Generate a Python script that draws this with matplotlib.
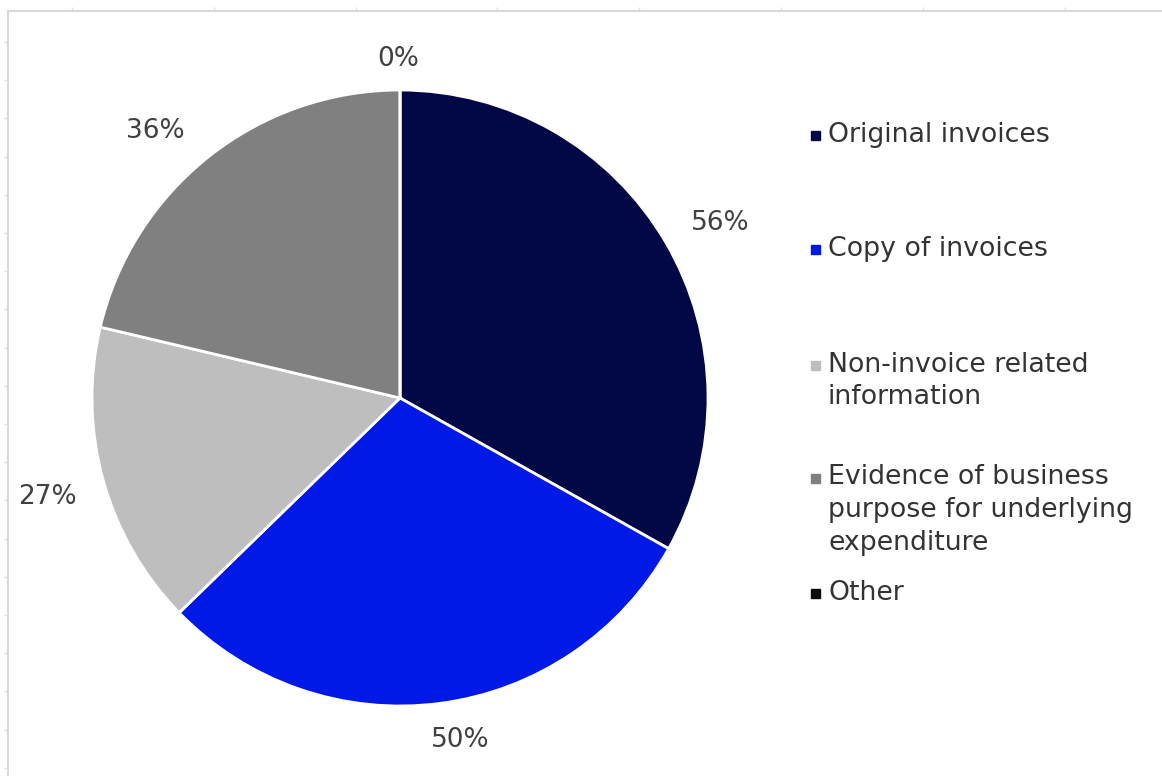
import numpy as np
import matplotlib.pyplot as plt
from matplotlib.patches import Rectangle

# data
categories = ['Original invoices', 'Copy of invoices', 'Non-invoice related\ninformation',
              'Evidence of business\npurpose for underlying\nexpenditure', 'Other']
values = [56, 50, 27, 36, 0]
colors = ['#020846', '#0019e6', '#bebebe', '#808080', '#0d0d0d']

W, H = 1162, 776
fig = plt.figure(figsize=(W / 100, H / 100), dpi=100)
plt.rcParams['font.family'] = 'DejaVu Sans'

# faint spreadsheet frame (top and left edges with small ticks)
bg = fig.add_axes([8 / W, 0, 1 - 8 / W, 1 - 11 / H])
bg.set_xlim(8, W)
bg.set_ylim(H, 11)
for side in ['right', 'bottom']:
    bg.spines[side].set_visible(False)
for side in ['top', 'left']:
    bg.spines[side].set_color('#d9d9d9')
    bg.spines[side].set_linewidth(1.5)
bg.xaxis.tick_top()
bg.set_xticks(np.arange(72, W, 141.8))
bg.set_yticks(np.arange(42, H, 38.2))
bg.tick_params(colors='#e0e0e0', length=3, width=1, labeltop=False, labelleft=False)
bg.patch.set_alpha(0)

# pie
cx, cy, r = 400, 398, 308
ax = fig.add_axes([(cx - r) / W, (H - cy - r) / H, 2 * r / W, 2 * r / H])
wedges, _ = ax.pie(values, colors=colors, startangle=90, counterclock=False,
                   wedgeprops=dict(edgecolor='white', linewidth=2))
ax.set_xlim(-1, 1)
ax.set_ylim(-1, 1)

# value labels outside the slices (Excel "best fit" nudges, in pixels)
nudge = [(7, -9), (15, 0), (0, -2), (-23, -13), (-2, -3)]
for w, v, (nx, ny) in zip(wedges, values, nudge):
    mid = np.deg2rad((w.theta1 + w.theta2) / 2)
    d = 1.11 + 0.08 * abs(np.cos(mid))
    ax.text(d * np.cos(mid) + nx / r, d * np.sin(mid) + ny / r, f'{v}%',
            ha='center', va='center', fontsize=19, color='#404040', clip_on=False)

# legend, drawn by hand to keep Excel's uneven spacing
legend_tops = [135, 249, 365, 478, 593]
n_lines = [c.count('\n') + 1 for c in categories]
for lab, col, yt, n in zip(categories, colors, legend_tops, n_lines):
    fig.text(828 / W, 1 - (yt + (n - 1) * 16) / H, lab, ha='left', va='center',
             fontsize=19.3, color='#333333', linespacing=1.33)
    fig.patches.append(Rectangle((811 / W, 1 - (yt + 4.5) / H), 9 / W, 9 / H,
                                 transform=fig.transFigure, color=col))

fig.savefig('out.png', dpi=100)
